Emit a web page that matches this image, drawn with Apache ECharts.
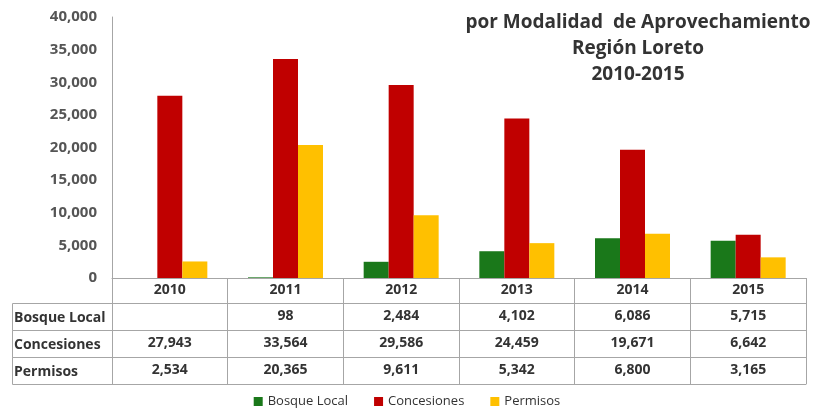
<!DOCTYPE html>
<html>
<head>
<meta charset="utf-8">
<script src="https://cdn.jsdelivr.net/npm/echarts@6/dist/echarts.min.js"></script>
<style>
  html, body { margin: 0; padding: 0; background: #fff; }
  #chart { width: 814px; height: 413px; }
</style>
</head>
<body>
<div id="chart"></div>
<script>
// datos
const years = ['2010', '2011', '2012', '2013', '2014', '2015'];
const bosqueLocal = [null, 98, 2484, 4102, 6086, 5715];
const concesiones = [27943, 33564, 29586, 24459, 19671, 6642];
const permisos = [2534, 20365, 9611, 5342, 6800, 3165];
const rowLabels = ['Bosque Local', 'Concesiones', 'Permisos'];
const titleLines = ['por Modalidad  de Aprovechamiento', 'Región Loreto', '2010-2015'];

const colors = ['#1a781a', '#c00000', '#ffc000'];
const fmt = v => (v === null || v === undefined) ? '' : v.toLocaleString('en-US');

const chart = echarts.init(document.getElementById('chart'), null, { renderer: 'canvas' });

const FONT = '"Open Sans", sans-serif';
const lineColor = '#a6a6a6';
const textColor = '#333';

// ejes de la tabla: encabezado + una fila por serie + línea final
const rowOffsets = [0, 25, 52, 79, 106];
const rowHeights = [25, 27, 27, 27, 0];
const rowData = [null, bosqueLocal, concesiones, permisos, null];

const xAxes = rowOffsets.map((off, i) => ({
  type: 'category',
  data: years,
  gridIndex: 0,
  position: 'bottom',
  offset: off,
  axisLine: { show: true, lineStyle: { color: lineColor, width: 1 } },
  axisTick: {
    show: i < 4,
    length: rowHeights[i],
    interval: 0,
    lineStyle: { color: lineColor, width: 1 }
  },
  axisLabel: {
    show: i < 4,
    interval: 0,
    margin: i === 0 ? 5 : 6,
    color: textColor,
    fontFamily: FONT,
    fontSize: 14,
    fontWeight: 'bold',
    formatter: (val, idx) => i === 0 ? val : fmt(rowData[i][idx])
  },
  splitLine: { show: false }
}));

// celdas de la columna de etiquetas
const labelCells = [];
rowLabels.forEach((lab, r) => {
  const y = 278 + rowOffsets[r + 1];
  labelCells.push({
    type: 'rect',
    shape: { x: 12.5, y: y + 0.5, width: 100, height: rowHeights[r + 1] },
    style: { fill: 'none', stroke: lineColor, lineWidth: 1 }
  });
  labelCells.push({
    type: 'text',
    x: 14,
    y: y + rowHeights[r + 1] / 2 + 2,
    style: {
      text: lab,
      fill: textColor,
      font: 'bold 14px ' + FONT,
      verticalAlign: 'middle'
    }
  });
});

const option = {
  backgroundColor: '#ffffff',
  animation: false,
  color: colors,
  title: {
    text: titleLines.join('\n'),
    left: 633,
    top: 5,
    textAlign: 'center',
    textStyle: {
      fontFamily: FONT,
      fontSize: 19,
      fontWeight: 'bold',
      color: '#333',
      lineHeight: 26
    }
  },
  legend: {
    data: ['Bosque Local', 'Concesiones', 'Permisos'],
    left: 'center',
    bottom: 0,
    icon: 'rect',
    itemWidth: 9,
    itemHeight: 9,
    itemGap: 26,
    textStyle: { fontFamily: FONT, fontSize: 13, color: '#333' }
  },
  grid: {
    left: 112,
    right: 8,
    top: 17,
    bottom: 135,
    containLabel: false
  },
  xAxis: xAxes,
  yAxis: {
    type: 'value',
    min: 0,
    max: 40000,
    interval: 5000,
    axisLine: { show: true, lineStyle: { color: lineColor } },
    axisTick: { show: false },
    splitLine: { show: false },
    axisLabel: {
      margin: 15,
      color: '#555',
      fontFamily: FONT,
      fontSize: 15,
      fontWeight: 'bold',
      formatter: v => fmt(v)
    }
  },
  series: [
    { name: 'Bosque Local', type: 'bar', data: bosqueLocal, barWidth: 25, barGap: '0%', xAxisIndex: 0 },
    { name: 'Concesiones', type: 'bar', data: concesiones, barWidth: 25, barGap: '0%', xAxisIndex: 0 },
    { name: 'Permisos', type: 'bar', data: permisos, barWidth: 25, barGap: '0%', xAxisIndex: 0 }
  ],
  graphic: labelCells
};

chart.setOption(option);
</script>
</body>
</html>
